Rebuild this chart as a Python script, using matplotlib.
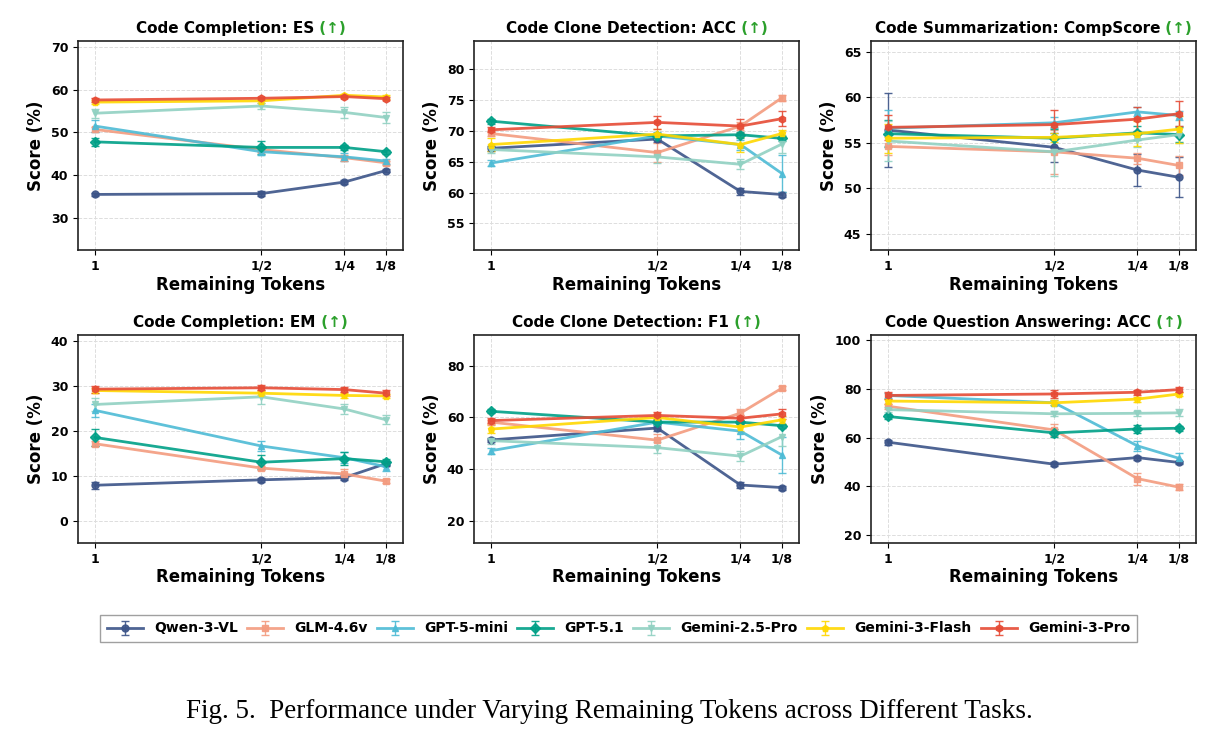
import matplotlib
matplotlib.use("Agg")
import matplotlib.pyplot as plt
import numpy as np

models = ["Qwen-3-VL", "GLM-4.6v", "GPT-5-mini", "GPT-5.1", "Gemini-2.5-Pro", "Gemini-3-Flash", "Gemini-3-Pro"]
colors = ["#3C5488", "#F39B7F", "#4DBBD5", "#00A087", "#91D1C2", "#FFD700", "#E64B35"]
markers = ["o", "s", "^", "D", "v", "p", "h"]

x_vals = [1, 0.5, 0.25, 0.125]
x_labels = ["1", "1/2", "1/4", "1/8"]

titles = ["Code Completion: ES", "Code Clone Detection: ACC", "Code Summarization: CompScore",
          "Code Completion: EM", "Code Clone Detection: F1", "Code Question Answering: ACC"]

es = [[35.5, 35.7, 38.4, 41.1],
      [50.7, 46.0, 44.1, 42.9],
      [51.5, 45.5, 44.3, 43.3],
      [47.8, 46.5, 46.5, 45.5],
      [54.5, 56.2, 54.7, 53.5],
      [57.1, 57.4, 58.7, 58.3],
      [57.6, 58.0, 58.4, 57.9]]
es_err = [[0.4, 0.6, 0.5, 0.4],
          [0.6, 0.6, 0.7, 0.5],
          [1.5, 0.7, 1.0, 0.6],
          [0.9, 1.5, 0.6, 0.5],
          [1.0, 0.8, 1.3, 1.2],
          [0.4, 0.5, 0.4, 0.5],
          [0.5, 0.4, 0.4, 0.4]]

clone_acc = [[67.2, 68.7, 60.2, 59.7],
             [69.6, 66.5, 70.8, 75.4],
             [64.8, 69.2, 67.8, 63.1],
             [71.6, 69.2, 69.4, 68.8],
             [67.0, 65.8, 64.6, 67.9],
             [67.8, 69.5, 67.8, 69.6],
             [70.2, 71.4, 70.8, 72.0]]
clone_acc_err = [[0.4, 0.5, 0.6, 0.4],
                 [0.4, 1.5, 0.6, 0.5],
                 [0.5, 0.7, 0.8, 3.0],
                 [0.4, 0.4, 0.5, 0.4],
                 [0.6, 1.0, 0.8, 1.5],
                 [1.0, 0.8, 1.2, 0.6],
                 [0.4, 1.0, 1.2, 1.2]]

comp = [[56.4, 54.5, 52.0, 51.2],
        [54.6, 54.0, 53.3, 52.5],
        [56.6, 57.2, 58.4, 58.0],
        [56.0, 55.5, 56.1, 55.9],
        [55.2, 54.0, 55.3, 55.9],
        [55.5, 55.6, 56.0, 56.5],
        [56.7, 57.0, 57.6, 58.2]]
comp_err = [[4.1, 1.6, 1.8, 2.2],
            [1.0, 2.4, 0.6, 1.0],
            [2.0, 0.6, 0.5, 0.5],
            [1.5, 1.0, 0.8, 0.8],
            [2.2, 2.7, 0.8, 0.9],
            [1.6, 0.5, 1.4, 1.5],
            [1.4, 1.6, 1.3, 1.4]]

em = [[8.0, 9.2, 9.7, 12.8],
      [17.2, 11.8, 10.5, 8.9],
      [24.6, 16.7, 14.1, 12.1],
      [18.6, 13.1, 13.9, 13.2],
      [25.9, 27.6, 24.9, 22.5],
      [29.0, 28.4, 27.9, 27.8],
      [29.3, 29.6, 29.2, 28.4]]
em_err = [[0.8, 0.5, 0.6, 0.6],
          [0.5, 0.5, 1.0, 0.4],
          [1.5, 1.2, 1.2, 1.0],
          [1.8, 1.5, 1.5, 0.7],
          [1.5, 1.5, 1.0, 1.0],
          [0.5, 0.5, 0.5, 0.5],
          [0.8, 0.6, 0.6, 0.7]]

clone_f1 = [[51.3, 55.9, 33.8, 32.8],
            [58.2, 51.2, 61.7, 71.4],
            [47.1, 58.2, 54.7, 45.4],
            [62.4, 58.2, 58.2, 56.8],
            [51.0, 48.3, 45.0, 52.6],
            [55.5, 60.0, 56.3, 59.1],
            [58.8, 60.8, 59.7, 61.4]]
clone_f1_err = [[0.8, 1.0, 1.2, 0.8],
                [0.8, 2.5, 1.5, 0.7],
                [1.2, 1.5, 3.0, 7.0],
                [0.7, 0.8, 0.8, 0.8],
                [1.2, 2.0, 2.0, 3.5],
                [1.5, 1.5, 1.5, 1.5],
                [1.0, 1.5, 1.2, 2.0]]

qa = [[58.1, 49.1, 51.8, 49.8],
      [72.8, 63.1, 43.2, 39.7],
      [77.2, 74.2, 56.6, 51.5],
      [68.6, 61.9, 63.5, 63.8],
      [71.4, 69.7, 69.9, 70.1],
      [74.9, 74.2, 75.7, 77.8],
      [77.2, 77.8, 78.5, 79.6]]
qa_err = [[1.0, 0.8, 0.8, 0.8],
          [1.0, 2.5, 2.5, 1.2],
          [1.0, 1.0, 2.0, 2.0],
          [1.2, 1.5, 1.5, 1.0],
          [1.0, 1.0, 1.0, 1.5],
          [1.0, 1.0, 1.0, 1.0],
          [1.5, 1.5, 1.0, 1.0]]

data = [es, clone_acc, comp, em, clone_f1, qa]
errs = [es_err, clone_acc_err, comp_err, em_err, clone_f1_err, qa_err]
ylims = [(22.5, 71.4), (50.7, 84.6), (43.2, 66.2), (-4.8, 41.3), (11.3, 92.0), (16.9, 101.9)]
yticks = [[30, 40, 50, 60, 70], [55, 60, 65, 70, 75, 80], [45, 50, 55, 60, 65],
          [0, 10, 20, 30, 40], [20, 40, 60, 80], [20, 40, 60, 80, 100]]

W, H = 1217, 741
fig = plt.figure(figsize=(W / 100, H / 100), dpi=100)

lefts = [78, 474, 871]
tops = [41, 335]
bottoms = [250, 543]
aw = 325

axes = []
title_pairs = []
for i in range(6):
    r, c = divmod(i, 3)
    ax = fig.add_axes([lefts[c] / W, 1 - bottoms[r] / H, aw / W, (bottoms[r] - tops[r]) / H])
    axes.append(ax)
    for m in range(7):
        ax.errorbar(x_vals, data[i][m], yerr=errs[i][m], color=colors[m], marker=markers[m],
                    markersize=5, linewidth=2, capsize=3, elinewidth=1, capthick=1,
                    ecolor=colors[m], alpha=0.9, label=models[m], zorder=3)
    ax.set_xlim(1.051, 0.074)
    ax.set_xticks(x_vals)
    ax.set_xticklabels(x_labels)
    ax.set_ylim(*ylims[i])
    ax.set_yticks(yticks[i])
    ax.grid(True, linestyle="--", color="#dddddd", linewidth=0.7, zorder=0)
    ax.set_axisbelow(True)
    for lab in ax.get_xticklabels() + ax.get_yticklabels():
        lab.set_fontweight("bold")
        lab.set_fontsize(9)
    ax.set_xlabel("Remaining Tokens", fontsize=12, fontweight="bold", labelpad=2)
    ax.set_ylabel("Score (%)", fontsize=12, fontweight="bold")
    for s in ax.spines.values():
        s.set_linewidth(1.2)
        s.set_color("#222222")
    t1 = ax.text(0.5, 1.025, titles[i], transform=ax.transAxes, ha="left", va="bottom",
                 fontsize=11, fontweight="bold")
    t2 = ax.annotate(" (\u2191)", xy=(1, 0), xycoords=t1, ha="left", va="bottom",
                     fontsize=11, fontweight="bold", color="#2ca02c")
    title_pairs.append((ax, t1, t2))

handles, labels = axes[0].get_legend_handles_labels()

fig.text(609 / W, 1 - 712 / H,
         "Fig. 5.  Performance under Varying Remaining Tokens across Different Tasks.",
         ha="center", va="center", fontsize=19.5, family="Liberation Serif")

target_w = 1037
cs = 2.0
fig.canvas.draw()
renderer = fig.canvas.get_renderer()
for _ in range(4):
    leg = fig.legend(handles, labels, loc="center", bbox_to_anchor=(618.5 / W, 1 - 628.5 / H), ncol=7,
                     frameon=True, prop={"weight": "bold", "size": 10}, handlelength=2.6,
                     columnspacing=cs, fancybox=False, edgecolor="#888888", borderpad=0.5)
    fig.canvas.draw()
    wpx = leg.get_window_extent(renderer).width
    diff = target_w - wpx
    if abs(diff) < 2:
        break
    leg.remove()
    cs = cs + diff / 6.0 / 10.0 * 72 / 100

for ax, t1, t2 in title_pairs:
    b1 = t1.get_window_extent(renderer)
    b2 = t2.get_window_extent(renderer)
    axb = ax.get_window_extent(renderer)
    total = (b1.width + b2.width) / axb.width
    t1.set_x(0.5 - total / 2)

fig.savefig("out.png", dpi=100)
